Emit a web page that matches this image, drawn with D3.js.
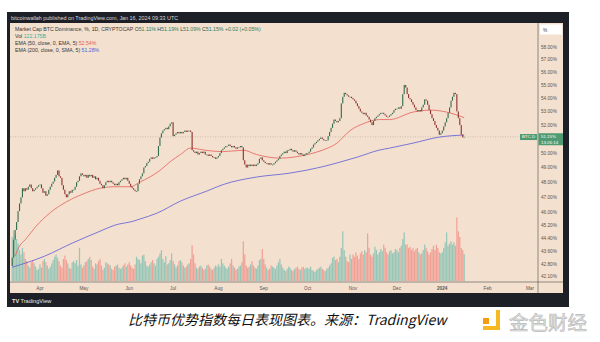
<!DOCTYPE html>
<html>
<head>
	<meta charset="utf-8">
	<title>BTC Dominance 1D</title>
	<script src="https://d3js.org/d3.v7.min.js"></script>
	<style>
		body { margin: 0; background: #fff; }
		svg { display: block; font-family: "Liberation Sans", Arial, sans-serif; }
	</style>
</head>
<body>
<svg id="chart" width="600" height="342"></svg>
<script>
	// daily closes (%), 13 Mar 2023 .. 16 Jan 2024, one array per month
	var closeMar = [43.2,44.3,44.9,45.4,46.1,46.6,47.0,47.6,47.4,47.6,47.5,47.7,47.85,47.6,47.4,47.5,47.6,47.7,47.8];
	var closeApr = [47.85,47.6,47.3,47.4,47.1,47.2,47.5,47.7,47.9,48.05,48.3,48.5,48.8,48.4,48.3,47.8,47.5,47.2,47.0,47.2,47.4,47.3,47.5,47.5,47.7,48.0,48.1,48.4,48.6,48.5];
	var closeMay = [48.4,48.5,48.3,48.5,48.4,48.5,48.3,48.4,48.2,48.3,48.1,47.9,47.8,47.6,47.8,48.0,48.1,48.0,48.1,48.0,47.9,47.8,47.9,47.8,48.0,48.1,48.2,48.3,48.2,48.3,48.1];
	var closeJun = [47.9,47.7,47.6,47.5,47.4,47.4,47.9,48.2,48.4,48.6,49.0,49.1,49.3,49.4,49.6,49.7,49.6,49.7,49.7,49.8,50.5,51.1,51.4,51.6,51.7,51.8,51.7,51.9,52.1,52.2];
	var closeJul = [51.2,51.3,51.4,51.5,51.4,51.5,51.4,51.5,51.6,51.5,51.6,51.6,51.5,50.2,50.1,50.0,50.1,49.9,50.0,50.1,50.0,50.1,49.9,49.9,49.8,49.9,49.8,49.7,49.7,49.6,49.7];
	var closeAug = [49.8,50.0,50.2,50.3,50.4,50.5,50.5,50.6,50.5,50.4,50.5,50.4,50.3,50.4,50.4,50.5,50.4,49.5,49.2,49.0,49.2,49.1,49.2,49.1,49.2,49.1,49.2,49.3,49.6,49.7,49.5];
	var closeSep = [49.4,49.3,49.3,49.2,49.3,49.2,49.2,49.3,49.4,49.5,49.6,49.8,49.9,50.0,50.1,50.0,50.2,50.2,50.3,50.2,50.1,50.2,50.1,50.0,49.9,50.0,49.9,49.8,49.9,50.0];
	var closeOct = [50.0,50.1,50.3,50.4,50.6,50.7,50.8,50.9,51.0,51.1,51.0,50.9,50.9,50.9,51.2,51.5,51.8,52.1,52.4,52.3,52.2,52.3,52.5,53.6,54.1,54.4,54.3,54.2,54.1,54.1,54.0];
	var closeNov = [53.9,53.8,53.6,53.4,53.2,53.0,52.9,52.8,52.9,52.7,52.6,52.4,52.2,52.0,52.3,52.5,52.6,52.7,52.8,52.9,52.9,52.8,52.7,52.6,52.6,52.7,52.8,52.9,53.1,53.2];
	var closeDec = [53.2,53.3,53.2,53.4,54.3,55.0,54.8,54.3,54.0,53.9,53.7,53.5,53.3,53.1,53.0,53.1,53.0,53.3,53.5,53.9,53.8,53.5,53.1,52.8,52.5,52.3,52.0,51.8,51.6,51.3,51.4];
	var closeJan = [51.6,51.9,52.2,52.5,52.9,53.3,53.8,54.1,54.4,54.3,53.0,52.5,52.0,51.3,51.11,51.15];
	var firstOpen = 42.7;

	// daily volume (billions)
	var volMar = [200,230,210,190,170,140,120,150,130,100,90,70,60,85,95,80,65,50,55];
	var volApr = [75,60,90,100,85,70,55,65,80,95,110,120,105,90,70,60,100,115,95,80,60,55,85,90,80,95,70,150,75,60];
	var volMay = [70,85,90,100,110,95,65,55,80,75,90,100,70,50,60,85,80,75,70,55,50,65,70,75,60,55,60,70,80,65,75];
	var volJun = [85,70,60,55,75,110,100,95,80,115,120,90,70,65,75,85,95,80,70,100,110,125,140,100,85,112,75,80,95,125];
	var volJul = [90,75,60,70,90,95,85,70,60,65,75,80,100,162,120,80,60,55,65,70,60,50,55,70,75,65,55,50,60,70,65];
	var volAug = [75,65,100,80,70,60,55,65,80,100,70,60,50,55,65,70,85,180,120,70,60,65,75,90,70,60,55,70,95,100,145];
	var volSep = [100,75,60,50,55,70,65,60,55,70,85,100,75,60,50,45,55,65,60,50,45,55,60,65,55,50,60,65,55,60];
	var volOct = [60,55,65,50,45,40,50,55,60,65,55,50,45,55,60,70,80,105,110,95,100,85,110,150,225,140,110,90,85,120,100];
	var volNov = [120,110,130,115,100,125,135,120,140,130,216,150,120,110,125,155,140,120,130,145,135,165,150,130,120,135,140,125,130,145];
	var volDec = [140,130,150,160,190,220,165,165,150,155,140,150,135,145,150,130,120,125,140,165,150,135,120,130,145,160,140,165,150,130,125];
	var volJan = [130,150,175,220,160,170,180,165,175,160,288,225,200,150,140,122.175];

	// EMA 50 and SMA 200 (day offset from 13 Mar 2023)
	var emaDays = [2,5,9,16,26,37,48,60,70,81,87,94,101,108,115,122,132,144,158,167,183,202,212,222,231,240,251,258,274,286,297,309];
	var emaValues = [43.3,43.9,44.3,45.1,46.0,46.7,47.2,47.6,47.7,47.7,48.0,48.35,48.8,49.4,49.9,50.35,50.2,50.1,50.2,49.9,49.65,49.9,50.2,50.7,51.6,52.1,52.4,52.4,52.95,53.1,52.95,52.54];
	var smaDays = [0,22,41,60,70,83,87,99,115,133,144,167,190,212,224,236,251,258,274,292,309];
	var smaValues = [42.62,43.28,44.08,44.82,45.2,45.46,45.58,45.97,46.75,47.41,47.84,48.35,48.62,49.05,49.37,49.72,50.21,50.35,50.7,51.13,51.28];

	// 51.00% sits under the last-price tag, so it is not listed
	var priceTicks = [58,57,56,55,54,53,52,50,49,48,47,46,45.2,44.4,43.6,42.8,42.1];
	var monthTicks = [[2023,3,'Apr'],[2023,4,'May'],[2023,5,'Jun'],[2023,6,'Jul'],[2023,7,'Aug'],[2023,8,'Sep'],
		[2023,9,'Oct'],[2023,10,'Nov'],[2023,11,'Dec'],[2024,0,'2024'],[2024,1,'Feb'],[2024,2,'Mar']];
	var lastPrice = 51.15;

	var startDate = new Date(2023, 2, 13);
	var closes = [].concat(closeMar, closeApr, closeMay, closeJun, closeJul, closeAug, closeSep, closeOct, closeNov, closeDec, closeJan);
	var volumes = [].concat(volMar, volApr, volMay, volJun, volJul, volAug, volSep, volOct, volNov, volDec, volJan);
	var candles = closes.map(function(c, i) {
		return {
			date: d3.timeDay.offset(startDate, i),
			open: i ? closes[i - 1] : firstOpen,
			close: c,
			vol: volumes[i]
		};
	});

	var bg = '#f3e0cf', frame = '#1d2027';
	var upCol = '#336b4b', downCol = '#8c2f2c';

	var x = d3.scaleTime()
		.domain([new Date(2023, 3, 1), new Date(2024, 2, 1)])
		.range([40, 530]);
	var y = d3.scaleLog()
		.domain([58, 42.1])
		.range([47, 276]);
	var yVol = d3.scaleLinear()
		.domain([0, 290])
		.range([281, 217]);

	var svg = d3.select('#chart');

	// frame + panes
	svg.append('rect').attr('x', 7).attr('y', 12).attr('width', 562).attr('height', 295).attr('fill', frame);
	svg.append('rect').attr('x', 10).attr('y', 23).attr('width', 553).attr('height', 270).attr('fill', bg);

	svg.append('text')
		.attr('x', 11).attr('y', 19.8)
		.attr('font-size', 5.4).attr('fill', '#d6d8de')
		.text('bitcoinwallah published on TradingView.com, Jan 16, 2024 09:33 UTC');

	svg.append('clipPath').attr('id', 'plot')
		.append('rect').attr('x', 10).attr('y', 23).attr('width', 528).attr('height', 259);
	var plot = svg.append('g').attr('clip-path', 'url(#plot)');

	// volume
	plot.selectAll('rect.vol')
		.data(candles)
		.enter().append('rect')
		.attr('class', 'vol')
		.attr('x', function(d) { return x(d.date) - 0.6; })
		.attr('width', 1.2)
		.attr('y', function(d) { return yVol(d.vol); })
		.attr('height', function(d) { return yVol(0) - yVol(d.vol); })
		.attr('fill', function(d) { return d.close >= d.open ? '#26a69a' : '#ef5350'; })
		.attr('opacity', 0.45);

	// last price line
	plot.append('line')
		.attr('x1', 10).attr('x2', 538)
		.attr('y1', y(lastPrice)).attr('y2', y(lastPrice))
		.attr('stroke', '#a89a8c').attr('stroke-width', 0.5)
		.attr('stroke-dasharray', '1,1.5');

	var line = d3.line()
		.x(function(d) { return x(d3.timeDay.offset(startDate, d[0])); })
		.y(function(d) { return y(d[1]); })
		.curve(d3.curveMonotoneX);

	plot.append('path')
		.attr('d', line(smaDays.map(function(d, i) { return [d, smaValues[i]]; })))
		.attr('fill', 'none').attr('stroke', '#5a5ad8').attr('stroke-width', 0.8);
	plot.append('path')
		.attr('d', line(emaDays.map(function(d, i) { return [d, emaValues[i]]; })))
		.attr('fill', 'none').attr('stroke', '#e4605a').attr('stroke-width', 0.8);

	// candles
	plot.selectAll('rect.candle')
		.data(candles)
		.enter().append('rect')
		.attr('class', 'candle')
		.attr('x', function(d) { return x(d.date) - 0.55; })
		.attr('width', 1.1)
		.attr('y', function(d) { return y(Math.max(d.open, d.close)); })
		.attr('height', function(d) { return Math.max(0.7, Math.abs(y(d.open) - y(d.close))); })
		.attr('fill', function(d) { return d.close >= d.open ? upCol : downCol; });

	// separators
	svg.append('line').attr('x1', 538).attr('x2', 538).attr('y1', 23).attr('y2', 293)
		.attr('stroke', '#4a4a4a').attr('stroke-width', 0.6);
	svg.append('line').attr('x1', 10).attr('x2', 563).attr('y1', 282).attr('y2', 282)
		.attr('stroke', '#4a4a4a').attr('stroke-width', 0.6);

	// price scale
	svg.append('rect').attr('x', 540).attr('y', 24.5).attr('width', 22).attr('height', 10).attr('fill', '#fff');
	svg.append('text').attr('x', 543).attr('y', 31.5).attr('font-size', 4.8).attr('fill', '#444').text('%');

	svg.selectAll('text.pt')
		.data(priceTicks)
		.enter().append('text')
		.attr('class', 'pt')
		.attr('x', 541)
		.attr('y', function(d) { return y(d) + 1.7; })
		.attr('font-size', 4.7)
		.attr('fill', '#5a5550')
		.text(function(d) { return d.toFixed(2) + '%'; });

	var tagY = y(lastPrice);
	svg.append('rect').attr('x', 520).attr('y', tagY - 2.8).attr('width', 17).attr('height', 6).attr('fill', '#4f9a72');
	svg.append('text').attr('x', 528.5).attr('y', tagY + 1.6).attr('text-anchor', 'middle')
		.attr('font-size', 4.4).attr('fill', '#fff').text('BTC.D');
	svg.append('rect').attr('x', 538.5).attr('y', tagY - 3.6).attr('width', 24.5).attr('height', 12).attr('fill', '#4f9a72');
	svg.append('text').attr('x', 541).attr('y', tagY + 1.3).attr('font-size', 4.4).attr('fill', '#fff').text(lastPrice.toFixed(2) + '%');
	svg.append('text').attr('x', 541).attr('y', tagY + 7.2).attr('font-size', 4.4).attr('fill', '#fff').text('13:26:14');

	// time scale
	svg.selectAll('text.mt')
		.data(monthTicks)
		.enter().append('text')
		.attr('class', 'mt')
		.attr('x', function(d) { return x(new Date(d[0], d[1], 1)); })
		.attr('y', 289.5)
		.attr('text-anchor', 'middle')
		.attr('font-size', 4.7)
		.attr('font-weight', function(d) { return d[2] === '2024' ? 'bold' : 'normal'; })
		.attr('fill', '#5a5550')
		.text(function(d) { return d[2]; });

	// legend
	var lg = svg.append('g').attr('font-size', 5.2).attr('fill', '#3a3633');
	var l1 = lg.append('text').attr('x', 15).attr('y', 30.5);
	l1.append('tspan').text('Market Cap BTC Dominance, %, 1D, CRYPTOCAP ');
	[['O', '51.11%'], ['H', '51.19%'], ['L', '51.09%'], ['C', '51.15%']].forEach(function(p) {
		l1.append('tspan').text(' ' + p[0]);
		l1.append('tspan').attr('fill', '#2e7a56').text(p[1]);
	});
	l1.append('tspan').attr('fill', '#2e7a56').text('  +0.02 (+0.05%)');
	var l2 = lg.append('text').attr('x', 15).attr('y', 37.5);
	l2.append('tspan').text('Vol ');
	l2.append('tspan').attr('fill', '#3fae9a').text('122.175B');
	var l3 = lg.append('text').attr('x', 15).attr('y', 45);
	l3.append('tspan').text('EMA (50, close, 0, EMA, 5) ');
	l3.append('tspan').attr('fill', '#e4605a').text('52.54%');
	var l4 = lg.append('text').attr('x', 15).attr('y', 52);
	l4.append('tspan').text('EMA (200, close, 0, SMA, 5) ');
	l4.append('tspan').attr('fill', '#5a5ad8').text('51.28%');

	// footer
	svg.append('text').attr('x', 12).attr('y', 302.5).attr('font-size', 5.6).attr('font-weight', 'bold')
		.attr('fill', '#e8e8e8').text('TV');
	svg.append('text').attr('x', 20.5).attr('y', 302.5).attr('font-size', 5.6)
		.attr('fill', '#e8e8e8').text('TradingView');

	// caption
	svg.append('text')
		.attr('x', 128).attr('y', 325)
		.attr('font-family', '"Noto Sans CJK SC", "Noto Sans", sans-serif')
		.attr('font-size', 14)
		.attr('font-style', 'italic')
		.attr('fill', '#111')
		.text('比特币优势指数每日表现图表。来源：TradingView');

	// watermark logo
	svg.append('rect').attr('x', 483).attr('y', 318).attr('width', 6).attr('height', 6).attr('fill', '#f39c12');
	svg.append('path').attr('d', 'M491,310 h9 v20 h-17 v-4 h13 v-16 z').attr('fill', '#f5b820');
	svg.append('text')
		.attr('x', 509).attr('y', 330)
		.attr('font-family', '"Noto Sans CJK SC", sans-serif')
		.attr('font-size', 19.5)
		.attr('fill', '#e2e2e2')
		.attr('stroke', '#b8b8b8').attr('stroke-width', 0.6)
		.text('金色财经');
</script>
</body>
</html>
